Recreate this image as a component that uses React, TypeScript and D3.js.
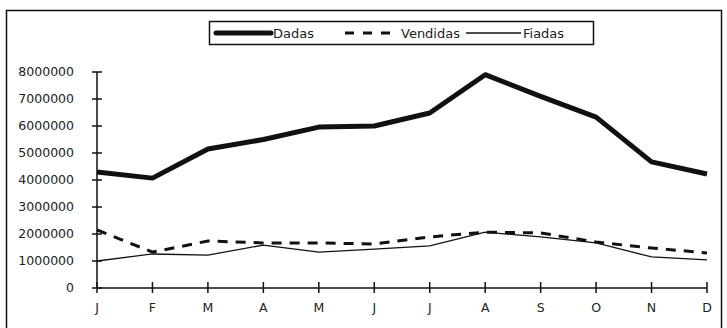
import React from "react";
import * as d3 from "d3";

const months = ["J", "F", "M", "A", "M", "J", "J", "A", "S", "O", "N", "D"];
const dadas = [4300000, 4070000, 5150000, 5500000, 5960000, 6000000, 6480000, 7900000, 7100000, 6330000, 4670000, 4220000];
const vendidas = [2150000, 1330000, 1740000, 1670000, 1670000, 1630000, 1890000, 2070000, 2040000, 1700000, 1480000, 1300000];
const fiadas = [1000000, 1260000, 1220000, 1590000, 1330000, 1440000, 1560000, 2070000, 1890000, 1670000, 1150000, 1040000];
const yTicks = [0, 1000000, 2000000, 3000000, 4000000, 5000000, 6000000, 7000000, 8000000];

const W = 727;
const H = 328;
const FONT = "'DejaVu Sans', sans-serif";

export default function App() {
  const x = d3.scalePoint<number>().domain(d3.range(12)).range([97, 707]);
  const y = d3.scaleLinear().domain([0, 8000000]).range([288, 72]);
  const line = (vals: number[]) =>
    d3.line<number>().x((_, i) => x(i)!).y((v) => y(v))(vals) || "";

  return (
    <div style={{ position: "absolute", left: 0, top: 0 }}>
      <svg width={W} height={H} style={{ display: "block", background: "#fff" }}>
        {/* outer frame */}
        <rect x={6.5} y={10.5} width={715} height={330} fill="none" stroke="#111" strokeWidth={1.5} />

        {/* legend */}
        <g>
          <rect x={209.5} y={21.5} width={384} height={23} fill="#fff" stroke="#111" strokeWidth={1.5} />
          <line x1={216} x2={271} y1={33} y2={33} stroke="#111" strokeWidth={5} strokeLinecap="round" />
          <text x={273} y={38} fontFamily={FONT} fontSize={13} fill="#222">Dadas</text>
          <line x1={345} x2={393} y1={33} y2={33} stroke="#111" strokeWidth={3} strokeDasharray="9,9" />
          <text x={401} y={38} fontFamily={FONT} fontSize={13} fill="#222">Vendidas</text>
          <line x1={466} x2={521} y1={33} y2={33} stroke="#111" strokeWidth={1.3} />
          <text x={523} y={38} fontFamily={FONT} fontSize={13} fill="#222">Fiadas</text>
        </g>

        {/* y axis */}
        <line x1={97} x2={97} y1={y(8000000)} y2={y(0)} stroke="#111" strokeWidth={1.5} />
        {yTicks.map((t) => (
          <g key={t}>
            <line x1={92} x2={102} y1={y(t)} y2={y(t)} stroke="#111" strokeWidth={1.5} />
            <text x={74} y={y(t)} dy="0.35em" textAnchor="end" fontFamily={FONT} fontSize={12.5} fill="#222">
              {t}
            </text>
          </g>
        ))}

        {/* x axis */}
        <line x1={97} x2={707} y1={y(0)} y2={y(0)} stroke="#111" strokeWidth={1.5} />
        {months.map((m, i) => (
          <g key={i}>
            <line x1={x(i)} x2={x(i)} y1={y(0) - 6} y2={y(0) + 5} stroke="#111" strokeWidth={1.5} />
            <text x={x(i)} y={308} dy="0.35em" textAnchor="middle" fontFamily={FONT} fontSize={12.5} fill="#222">
              {m}
            </text>
          </g>
        ))}

        {/* series */}
        <path d={line(fiadas)} fill="none" stroke="#111" strokeWidth={1.3} />
        <path d={line(vendidas)} fill="none" stroke="#111" strokeWidth={3} strokeDasharray="10,8" />
        <path d={line(dadas)} fill="none" stroke="#111" strokeWidth={5} strokeLinejoin="round" />
      </svg>
    </div>
  );
}
